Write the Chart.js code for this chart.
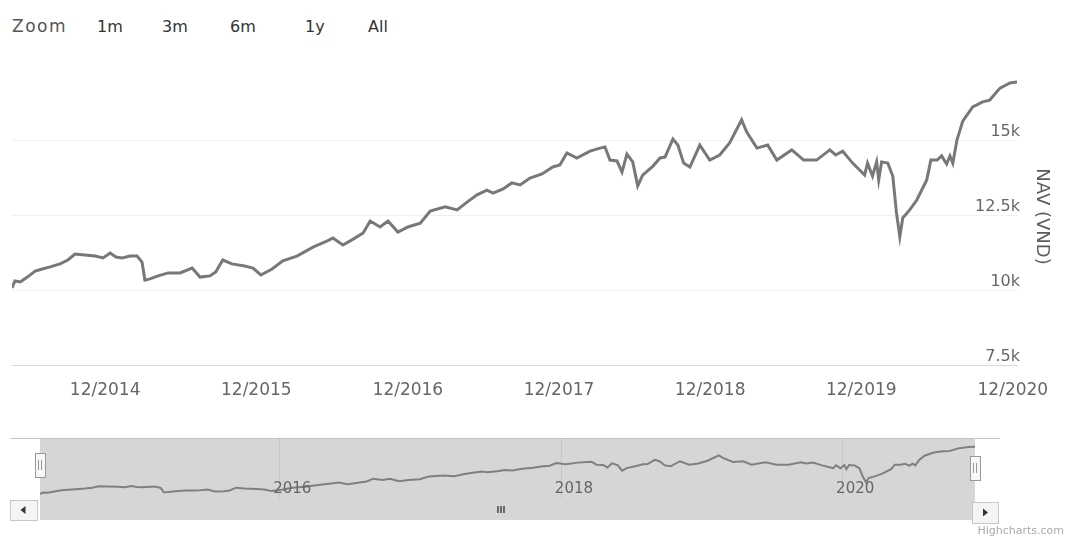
<!DOCTYPE html>
<html>
<head>
<meta charset="utf-8">
<title>NAV (VND)</title>
<script src="https://cdn.jsdelivr.net/npm/chart.js@4.4.1/dist/chart.umd.min.js"></script>
<style>
    html, body { margin: 0; padding: 0; background: #fff; }
    #wrap { position: relative; width: 1067px; height: 538px; overflow: hidden; font-family: "DejaVu Sans", sans-serif; }
    #mainChart { position: absolute; left: 0; top: 0; }
    #navChart { position: absolute; left: 0; top: 430px; }
    .range { position: absolute; top: 17px; font-size: 16px; color: #333; }
    #credits { position: absolute; right: 3px; top: 524px; font-size: 11px; color: #aaa; }
</style>
</head>
<body>
<div id="wrap">
    <div id="rangeSelector"></div>
    <canvas id="mainChart" width="1067" height="420"></canvas>
    <canvas id="navChart" width="1067" height="108"></canvas>
    <div id="credits">Highcharts.com</div>
</div>
<script>
// NAV series
const navDates = [
    "2014-04-20", "2014-04-27", "2014-05-10", "2014-05-27", "2014-06-15", "2014-07-02", "2014-07-21", "2014-08-14", "2014-09-02", "2014-09-19",
    "2014-10-13", "2014-11-07", "2014-11-26", "2014-12-13", "2014-12-27", "2015-01-11", "2015-01-30", "2015-02-16", "2015-02-28", "2015-03-07",
    "2015-03-19", "2015-04-08", "2015-05-02", "2015-05-31", "2015-06-29", "2015-07-18", "2015-08-11", "2015-08-25", "2015-09-11", "2015-10-03",
    "2015-11-03", "2015-11-23", "2015-12-12", "2016-01-08", "2016-02-03", "2016-03-08", "2016-04-16", "2016-05-15", "2016-06-03", "2016-06-27",
    "2016-07-19", "2016-08-15", "2016-09-01", "2016-09-25", "2016-10-14", "2016-11-07", "2016-12-01", "2016-12-31", "2017-01-24", "2017-03-01",
    "2017-03-30", "2017-04-23", "2017-05-17", "2017-06-10", "2017-06-25", "2017-07-19", "2017-08-09", "2017-08-29", "2017-09-22", "2017-10-21",
    "2017-11-16", "2017-12-03", "2017-12-20", "2018-01-13", "2018-02-14", "2018-03-10", "2018-03-22", "2018-04-03", "2018-04-20", "2018-05-02",
    "2018-05-14", "2018-05-28", "2018-06-09", "2018-06-21", "2018-07-16", "2018-08-02", "2018-08-14", "2018-09-02", "2018-09-14", "2018-09-28",
    "2018-10-13", "2018-11-06", "2018-11-30", "2018-12-24", "2019-01-17", "2019-02-15", "2019-02-27", "2019-03-24", "2019-04-19", "2019-05-11",
    "2019-06-16", "2019-07-15", "2019-08-15", "2019-09-16", "2019-09-30", "2019-10-17", "2019-11-10", "2019-11-27", "2019-12-09", "2019-12-16",
    "2019-12-28", "2020-01-07", "2020-01-12", "2020-01-19", "2020-02-03", "2020-02-15", "2020-02-24", "2020-03-03", "2020-03-10", "2020-03-27",
    "2020-04-13", "2020-05-07", "2020-05-17", "2020-06-01", "2020-06-12", "2020-06-24", "2020-07-02", "2020-07-09", "2020-07-19", "2020-08-02",
    "2020-08-26", "2020-09-19", "2020-10-06", "2020-10-31", "2020-11-24", "2020-12-11"
];
const navValues = [
    10070, 10300, 10270, 10430, 10630, 10700, 10770, 10870, 11000, 11200,
    11170, 11130, 11070, 11230, 11100, 11070, 11130, 11130, 10930, 10330,
    10370, 10470, 10570, 10570, 10730, 10430, 10470, 10600, 11000, 10870,
    10800, 10730, 10500, 10700, 10970, 11130, 11430, 11600, 11730, 11500,
    11670, 11900, 12300, 12100, 12300, 11930, 12100, 12230, 12630, 12770,
    12670, 12930, 13170, 13330, 13230, 13370, 13570, 13500, 13730, 13870,
    14100, 14170, 14570, 14400, 14630, 14730, 14770, 14330, 14300, 13930,
    14530, 14270, 13470, 13830, 14130, 14400, 14430, 15030, 14830, 14230,
    14100, 14830, 14330, 14500, 14900, 15670, 15270, 14730, 14830, 14330,
    14670, 14330, 14330, 14670, 14500, 14630, 14230, 14000, 13830, 14230,
    13800, 14270, 13670, 14270, 14230, 13800, 12570, 11770, 12400, 12670,
    13000, 13670, 14330, 14330, 14470, 14200, 14470, 14230, 15000, 15630,
    16100, 16270, 16330, 16730, 16900, 16930
];

// Axis ticks
const xTickDates = ["2014-12-01", "2015-12-01", "2016-12-01", "2017-12-01", "2018-12-01", "2019-12-01", "2020-12-01"];
const yTickValues = [7500, 10000, 12500, 15000];
const navigatorYears = [2016, 2018, 2020];
const rangeButtons = ["1m", "3m", "6m", "1y", "All"];

const FONT = "DejaVu Sans";

function toTime(s) {
    return Date.parse(s + "T00:00:00Z");
}

const points = navDates.map((d, i) => ({ x: toTime(d), y: navValues[i] }));
const xMin = points[0].x;
const xMax = points[points.length - 1].x;

// Range selector (plain text, like the original buttons)
const selector = document.getElementById("rangeSelector");
const zoomLabel = document.createElement("span");
zoomLabel.className = "range";
zoomLabel.style.left = "12px";
zoomLabel.style.color = "#555";
zoomLabel.style.letterSpacing = "1.5px";
zoomLabel.style.fontSize = "17px";
zoomLabel.style.top = "16px";
zoomLabel.textContent = "Zoom";
selector.appendChild(zoomLabel);
const buttonLeft = [97, 162, 230, 305, 368];
rangeButtons.forEach((label, i) => {
    const span = document.createElement("span");
    span.className = "range";
    span.style.left = buttonLeft[i] + "px";
    span.textContent = label;
    selector.appendChild(span);
});

// Main chart
new Chart(document.getElementById("mainChart"), {
    type: "line",
    data: {
        datasets: [
            {
                data: points,
                borderColor: "#787878",
                borderWidth: 3,
                pointRadius: 0,
                tension: 0,
            },
        ],
    },
    options: {
        responsive: false,
        animation: false,
        layout: { padding: { left: 12, top: 68, right: 0, bottom: 0 } },
        plugins: {
            legend: { display: false },
            tooltip: { enabled: false },
        },
        scales: {
            x: {
                type: "linear",
                min: xMin,
                max: xMax,
                afterBuildTicks: (scale) => {
                    scale.ticks = xTickDates.map((d) => ({ value: toTime(d) }));
                },
                afterFit: (scale) => {
                    scale.height = 55;
                },
                grid: { display: false, drawTicks: false },
                border: { color: "#d9d9d9", width: 1 },
                ticks: {
                    autoSkip: false,
                    maxRotation: 0,
                    padding: 15,
                    color: "#666",
                    font: { family: FONT, size: 17 },
                    callback: (value) => {
                        const d = new Date(value);
                        return d.getUTCMonth() + 1 + "/" + d.getUTCFullYear();
                    },
                },
            },
            y: {
                position: "right",
                min: 7500,
                max: 17400,
                afterBuildTicks: (scale) => {
                    scale.ticks = yTickValues.map((v) => ({ value: v }));
                },
                afterFit: (scale) => {
                    scale.width = 50;
                },
                grid: { color: "#f0f0f0", drawTicks: false },
                border: { display: false },
                ticks: {
                    mirror: true,
                    padding: 3,
                    labelOffset: -8,
                    color: "#666",
                    font: { family: FONT, size: 16 },
                    callback: (value) => value / 1000 + "k",
                },
                title: {
                    display: true,
                    text: "NAV (VND)",
                    color: "#5c5c5c",
                    font: { family: FONT, size: 18 },
                    padding: { top: 15, bottom: 0 },
                },
            },
        },
    },
});

// Navigator decorations: mask, year labels, handles, scrollbar
const navigatorDecor = {
    id: "navigatorDecor",
    beforeDatasetsDraw(chart) {
        const { ctx, chartArea } = chart;
        const xScale = chart.scales.x;
        ctx.save();
        ctx.fillStyle = "#d6d6d6";
        ctx.fillRect(chartArea.left, chartArea.top, chartArea.right - chartArea.left, 90 - chartArea.top);
        ctx.strokeStyle = "#c4c4c4";
        ctx.lineWidth = 1;
        ctx.beginPath();
        ctx.moveTo(10, chartArea.top + 0.5);
        ctx.lineTo(1000, chartArea.top + 0.5);
        ctx.stroke();
        // year grid lines
        ctx.strokeStyle = "rgba(0,0,0,0.07)";
        navigatorYears.forEach((yr) => {
            const x = Math.round(xScale.getPixelForValue(Date.UTC(yr, 0, 1))) + 0.5;
            ctx.beginPath();
            ctx.moveTo(x, chartArea.top);
            ctx.lineTo(x, chartArea.bottom);
            ctx.stroke();
        });
        ctx.restore();
    },
    afterDatasetsDraw(chart) {
        const { ctx, chartArea } = chart;
        const xScale = chart.scales.x;
        ctx.save();

        // year labels
        ctx.fillStyle = "#666";
        ctx.font = "15px '" + FONT + "'";
        ctx.textAlign = "left";
        ctx.textBaseline = "middle";
        navigatorYears.forEach((yr) => {
            const x = xScale.getPixelForValue(Date.UTC(yr, 0, 1));
            ctx.fillText(String(yr), x - 6, 59);
        });

        // handles
        const drawHandle = (cx, top) => {
            ctx.fillStyle = "#f7f7f7";
            ctx.strokeStyle = "#999";
            ctx.lineWidth = 1;
            ctx.fillRect(cx - 5, top, 10, 24);
            ctx.strokeRect(cx - 5 + 0.5, top + 0.5, 10, 24);
            ctx.beginPath();
            ctx.moveTo(cx - 1.5, top + 7);
            ctx.lineTo(cx - 1.5, top + 17);
            ctx.moveTo(cx + 1.5, top + 7);
            ctx.lineTo(cx + 1.5, top + 17);
            ctx.stroke();
        };
        drawHandle(chartArea.left, 23);
        drawHandle(chartArea.right, 26);

        // scrollbar arrow buttons
        const drawButton = (x, y, w, h, dir) => {
            ctx.fillStyle = "#f4f4f4";
            ctx.strokeStyle = "#c8c8c8";
            ctx.fillRect(x, y, w, h);
            ctx.strokeRect(x + 0.5, y + 0.5, w, h);
            const cx = x + w / 2;
            const cy = y + h / 2;
            ctx.fillStyle = "#333";
            ctx.beginPath();
            ctx.moveTo(cx - 3 * dir, cy);
            ctx.lineTo(cx + 2 * dir, cy - 4);
            ctx.lineTo(cx + 2 * dir, cy + 4);
            ctx.closePath();
            ctx.fill();
        };
        drawButton(10, 70, 27, 20, 1);
        drawButton(972, 72, 26, 21, -1);

        // scrollbar grip
        const gx = Math.round((chartArea.left + chartArea.right) / 2) - 7;
        ctx.strokeStyle = "#444";
        ctx.lineWidth = 1.5;
        [-3, 0, 3].forEach((dx) => {
            ctx.beginPath();
            ctx.moveTo(gx + dx, 76);
            ctx.lineTo(gx + dx, 83);
            ctx.stroke();
        });

        ctx.restore();
    },
};

new Chart(document.getElementById("navChart"), {
    type: "line",
    data: {
        datasets: [
            {
                data: points,
                borderColor: "#808080",
                borderWidth: 2,
                pointRadius: 0,
                tension: 0,
            },
        ],
    },
    options: {
        responsive: false,
        animation: false,
        layout: { padding: { left: 40, right: 92, top: 8, bottom: 40 } },
        plugins: {
            legend: { display: false },
            tooltip: { enabled: false },
        },
        scales: {
            x: { type: "linear", display: false, min: xMin, max: xMax },
            y: { display: false, min: 9500, max: 18200 },
        },
    },
    plugins: [navigatorDecor],
});
</script>
</body>
</html>
